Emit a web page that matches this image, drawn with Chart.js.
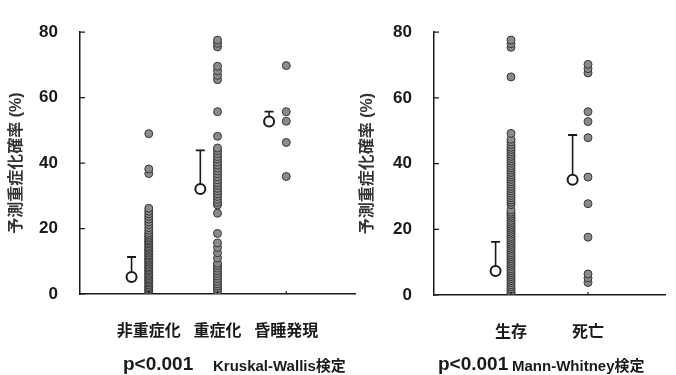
<!DOCTYPE html>
<html>
<head>
<meta charset="utf-8">
<script src="https://cdn.jsdelivr.net/npm/chart.js@4/dist/chart.umd.min.js"></script>
<style>
body { margin: 0; background: #fff; width: 676px; height: 375px; position: relative; overflow: hidden; }
#left { position: absolute; left: 0; top: 0; }
#right { position: absolute; left: 345px; top: 0; }
</style>
</head>
<body>
<canvas id="left" width="362" height="375"></canvas>
<canvas id="right" width="331" height="375"></canvas>
<script>
// 予測重症化確率 (%) for each patient
const leftLabels = ['非重症化', '重症化', '昏睡発現'];
const nonSevere = [0.1, 0.5, 1.0, 1.4, 1.9, 2.3, 2.8, 3.3, 3.7, 4.2, 4.6, 5.1, 5.6, 6.0, 6.5, 7.0, 7.4,
  7.9, 8.3, 8.8, 9.3, 9.7, 10.2, 10.6, 11.1, 11.6, 12.0, 12.5, 13.0, 13.4, 13.9, 14.3, 14.8, 15.3,
  15.7, 16.2, 16.6, 17.1, 17.6, 18.1, 18.7, 19.5, 20.3, 21.2, 22.0, 22.9, 23.7, 24.5, 25.3, 26.2,
  36.8, 38.2, 49.0];
const severe = [0.9, 1.6, 2.4, 3.1, 3.9, 4.7, 5.5, 6.3, 7.1, 7.9, 8.7, 9.4, 11.0, 12.6, 14.2, 15.6,
  18.5, 24.7, 27.2, 28.0, 28.9, 29.8, 30.6, 31.5, 32.3, 33.2, 34.0, 34.9, 35.8, 36.7, 37.6, 38.5,
  39.4, 40.3, 41.2, 42.0, 42.9, 43.8, 44.6, 48.2, 55.7, 65.5, 66.8, 68.2, 69.6, 75.5, 76.6, 77.6];
const coma = [35.9, 46.3, 52.8, 55.7, 69.8];
const leftMeans = [5.2, 32.1, 52.7];
const leftSdTops = [11.3, 43.9, 55.7];

const rightLabels = ['生存', '死亡'];
const survived = [0.2, 0.7, 1.3, 1.9, 2.5, 3.1, 3.8, 4.4, 5.0, 5.6, 6.2, 6.8, 7.4, 8.0, 8.7, 9.3,
  9.9, 10.5, 11.1, 11.7, 12.3, 12.9, 13.6, 14.2, 14.8, 15.4, 16.0, 16.6, 17.2, 17.8, 18.5, 19.1,
  19.7, 20.3, 20.9, 21.5, 22.1, 22.7, 23.4, 24.0, 24.6, 25.2, 25.9, 27.5, 28.2, 28.9, 29.6, 30.3,
  31.0, 31.7, 32.4, 33.1, 33.8, 34.5, 35.2, 35.9, 36.6, 37.3, 38.0, 38.7, 39.4, 40.1, 40.8, 41.5,
  42.2, 42.9, 43.6, 44.3, 45.0, 45.8, 46.6, 47.4, 49.2, 66.4, 75.4, 76.5, 77.6];
const died = [3.8, 5.2, 6.4, 17.6, 27.8, 35.9, 47.9, 52.8, 55.8, 67.6, 68.9, 70.2];
const rightMeans = [7.3, 35.1];
const rightSdTops = [16.2, 48.7];

const yTicks = [0, 20, 40, 60, 80];

const FONT = "'Liberation Sans', 'Noto Sans CJK JP', sans-serif";
const INK = '#1a1a1a';

function buildDatasets(groups, means, tops, meanShift) {
  const sets = [];
  // mean markers first so they sit on top
  sets.push({
    data: means.map((m, i) => ({ x: i + 1 + meanShift, y: m })),
    pointRadius: 5,
    pointBackgroundColor: '#fff',
    pointBorderColor: INK,
    pointBorderWidth: 2,
    showLine: false
  });
  means.forEach((m, i) => {
    sets.push({
      data: [{ x: i + 1 + meanShift, y: m }, { x: i + 1 + meanShift, y: tops[i] }],
      showLine: true,
      borderColor: INK,
      borderWidth: 1.6,
      pointStyle: 'line',
      pointRadius: [0, 4.5],
      pointBorderColor: INK,
      pointBorderWidth: 1.8
    });
  });
  groups.forEach((g, i) => {
    sets.push({
      data: g.map(v => ({ x: i + 1, y: v })),
      pointRadius: 4,
      pointBackgroundColor: '#8a8a8a',
      pointBorderColor: '#383838',
      pointBorderWidth: 1,
      showLine: false
    });
  });
  return sets;
}

const axisMarks = {
  id: 'axisMarks',
  afterDraw(chart, args, opts) {
    const { ctx, scales: { x, y } } = chart;
    ctx.save();
    ctx.strokeStyle = INK;
    ctx.lineWidth = 1.2;
    ctx.beginPath();
    y.ticks.forEach(t => {
      const py = y.getPixelForValue(t.value);
      ctx.moveTo(x.left, py);
      ctx.lineTo(x.left + 5, py);
    });
    x.ticks.forEach(t => {
      const px = x.getPixelForValue(t.value);
      ctx.moveTo(px, y.bottom);
      ctx.lineTo(px, y.bottom - 3);
    });
    ctx.stroke();
    ctx.fillStyle = INK;
    ctx.textBaseline = 'alphabetic';
    ctx.font = 'bold 19px ' + FONT;
    ctx.fillText(opts.p, opts.pX, 370);
    ctx.font = 'bold 15px ' + FONT;
    ctx.fillText(opts.test, opts.testX, 371);
    ctx.restore();
  }
};

function makeChart(id, labels, datasets, cfg) {
  return new Chart(document.getElementById(id), {
    type: 'scatter',
    data: { datasets: datasets },
    plugins: [axisMarks],
    options: {
      responsive: false,
      animation: false,
      layout: { padding: { top: cfg.top, right: cfg.right, left: 0, bottom: 0 } },
      plugins: {
        legend: { display: false },
        tooltip: { enabled: false },
        axisMarks: cfg.note
      },
      scales: {
        x: {
          type: 'linear',
          min: 0,
          max: cfg.xMax,
          afterBuildTicks: s => { s.ticks = labels.map((_, i) => ({ value: i + 1 })); },
          afterFit: s => { s.height = cfg.xHeight; },
          ticks: {
            autoSkip: false,
            maxRotation: 0,
            padding: 28,
            color: INK,
            font: { family: FONT, size: 16, weight: 'bold' },
            callback: v => labels[v - 1]
          },
          grid: { drawOnChartArea: false, drawTicks: false },
          border: { display: true, color: INK, width: 1.5 }
        },
        y: {
          min: 0,
          max: 80,
          afterBuildTicks: s => { s.ticks = yTicks.map(v => ({ value: v })); },
          afterFit: s => { s.width = cfg.yWidth; },
          ticks: {
            padding: 22,
            color: INK,
            font: { family: FONT, size: 17, weight: 'bold' }
          },
          title: {
            display: true,
            text: '予測重症化確率 (%)',
            color: '#333',
            padding: { top: cfg.titlePad, bottom: 0 },
            font: { family: FONT, size: 16, weight: 'bold' }
          },
          grid: { drawOnChartArea: false, drawTicks: false },
          border: { display: true, color: INK, width: 1.5 }
        }
      }
    }
  });
}

makeChart('left', leftLabels,
  buildDatasets([nonSevere, severe, coma], leftMeans, leftSdTops, -0.25),
  { top: 18, right: 5, xMax: 4, xHeight: 81, yWidth: 80, titlePad: 7,
    note: { p: 'p<0.001', pX: 123, test: 'Kruskal-Wallis検定', testX: 213 } });

makeChart('right', rightLabels,
  buildDatasets([survived, died], rightMeans, rightSdTops, -0.2),
  { top: 20, right: 11, xMax: 3, xHeight: 80, yWidth: 89, titlePad: 13,
    note: { p: 'p<0.001', pX: 93, test: 'Mann-Whitney検定', testX: 167 } });
</script>
</body>
</html>
